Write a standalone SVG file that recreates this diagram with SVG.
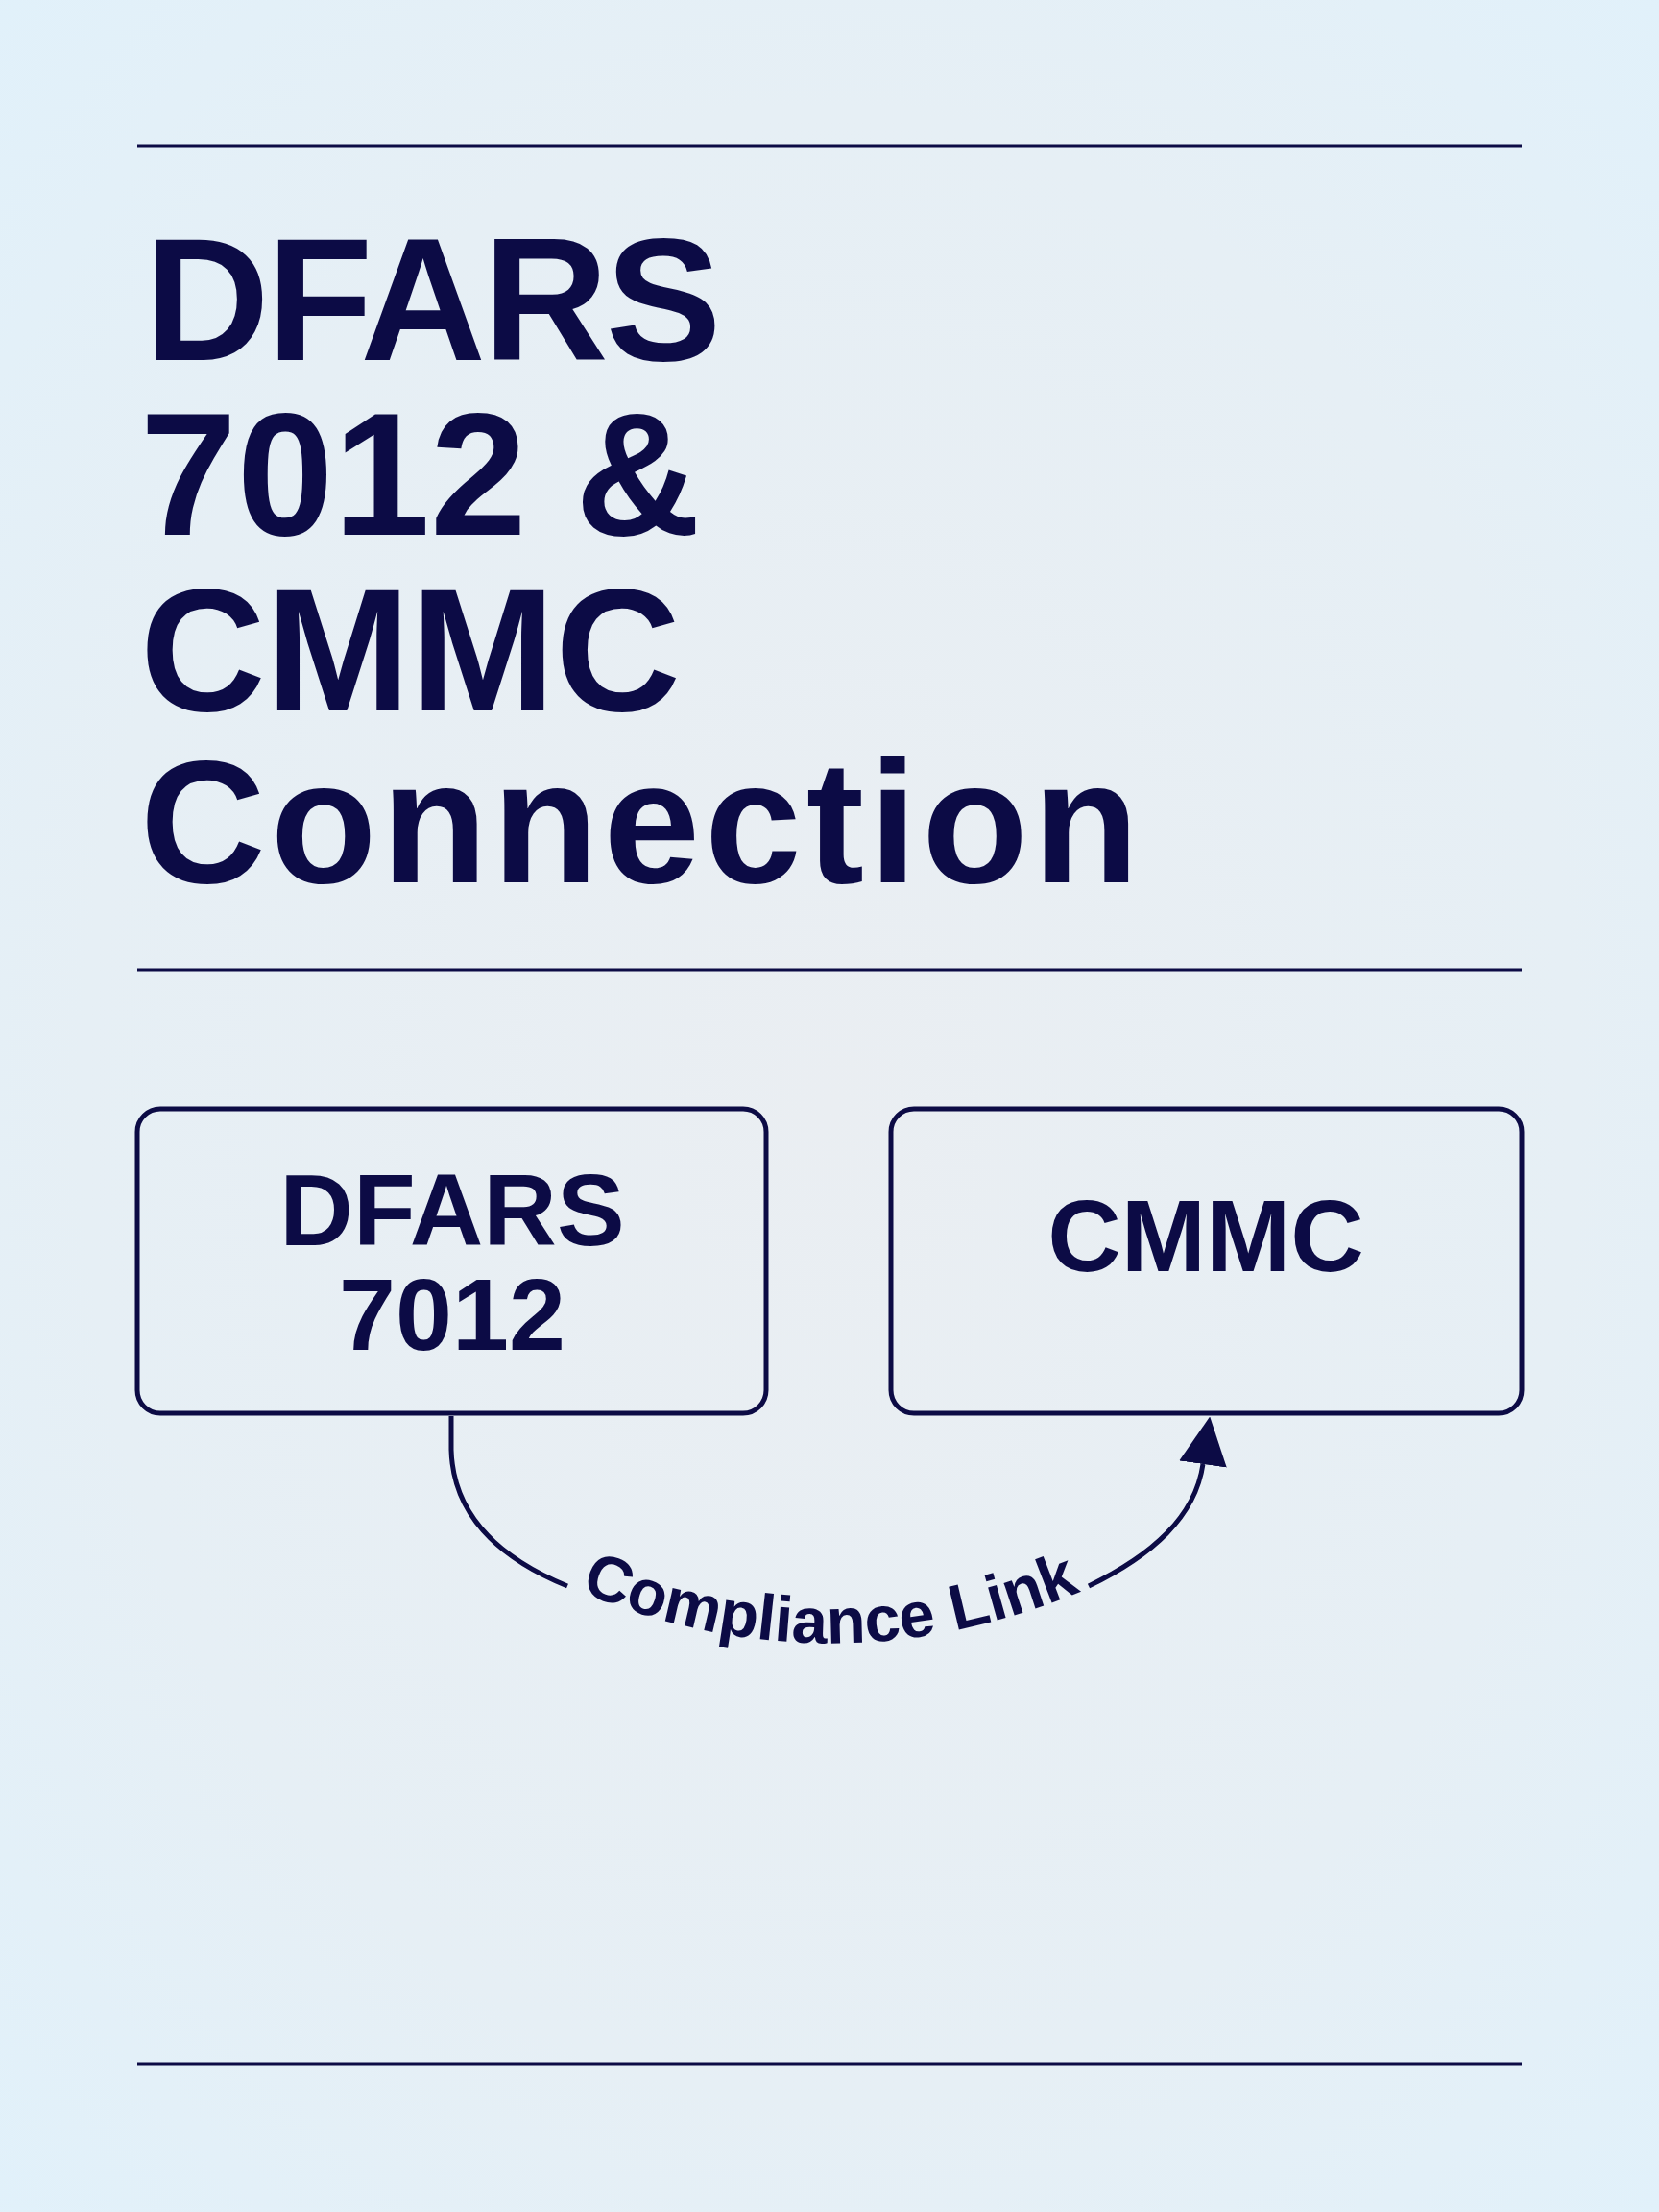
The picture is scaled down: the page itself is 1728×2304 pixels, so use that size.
<svg xmlns="http://www.w3.org/2000/svg" width="1728" height="2304" viewBox="0 0 1728 2304">
  <defs>
    <radialGradient id="bg" cx="50%" cy="50%" r="75%">
      <stop offset="0" stop-color="#eaeef2"/>
      <stop offset="0.6" stop-color="#e6eff5"/>
      <stop offset="1" stop-color="#e0f1fb"/>
    </radialGradient>
    <marker id="arrow" viewBox="0 0 50 50" refX="0" refY="25" markerWidth="50" markerHeight="50" markerUnits="userSpaceOnUse" orient="auto">
      <path d="M0,0 L50,25 L0,50 Z" fill="#0c0b45"/>
    </marker>
    <path id="labelPath" d="M598,1655 Q865,1768 1132,1655"/>
    <style>
      .rule { stroke: #0c0b45; stroke-width: 3; fill: none; }
      .box { fill: none; stroke: #0c0b45; stroke-width: 5; }
      .title { font-family: "Liberation Sans", Arial, sans-serif; font-weight: bold; font-size: 181px; fill: #0c0b45; }
      .nodeText { font-family: "Liberation Sans", Arial, sans-serif; font-weight: bold; font-size: 106px; fill: #0c0b45; text-anchor: middle; }
      .edge { fill: none; stroke: #0c0b45; stroke-width: 5; }
      .edgeLabel { font-family: "Liberation Sans", Arial, sans-serif; font-weight: bold; font-size: 67px; fill: #0c0b45; }
    </style>
  </defs>
  <rect x="0" y="0" width="1728" height="2304" fill="url(#bg)"/>

  <g id="rules">
    <line class="rule" x1="143" y1="152" x2="1585" y2="152"/>
    <line class="rule" x1="143" y1="1010" x2="1585" y2="1010"/>
    <line class="rule" x1="143" y1="2150" x2="1585" y2="2150"/>
  </g>

  <g id="title">
    <text class="title"><tspan x="150" y="375" letter-spacing="-3">DFARS</tspan><tspan x="146" y="557">7012 &amp;</tspan><tspan x="146" y="740">CMMC</tspan><tspan x="146" y="919" letter-spacing="5">Connection</tspan></text>
  </g>

  <g id="connectors">
    <path class="edge" d="M470,1475 L470,1510 C472,1585 530,1627 591,1652"/>
    <path class="edge" d="M1134,1652 C1200,1620 1245,1580 1253,1525" marker-end="url(#arrow)"/>
    <text class="edgeLabel" text-anchor="middle"><textPath href="#labelPath" startOffset="50%">Compliance Link</textPath></text>
  </g>

  <g id="node-dfars">
    <rect class="box" x="143" y="1155" width="655" height="317" rx="24"/>
    <text class="nodeText" x="471" y="1297">DFARS</text>
    <text class="nodeText" x="471" y="1406">7012</text>
  </g>

  <g id="node-cmmc">
    <rect class="box" x="928" y="1155" width="657" height="317" rx="24"/>
    <text class="nodeText" x="1256" y="1324">CMMC</text>
  </g>
</svg>
